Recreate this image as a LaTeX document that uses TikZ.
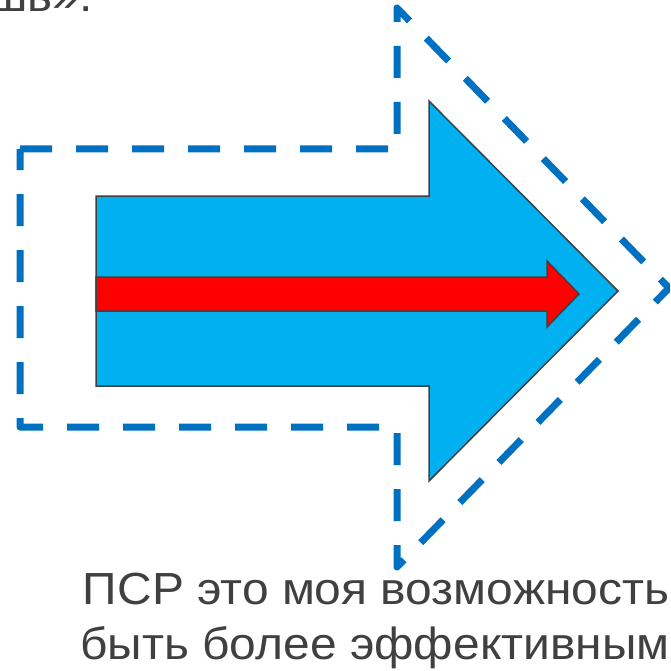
\documentclass[tikz,border=0pt]{standalone}
\usepackage{fontspec}
\setmainfont{Liberation Sans}[FakeStretch=1.065]
\definecolor{outlineblue}{HTML}{0070C0}
\definecolor{arrowblue}{HTML}{00B0F0}
\definecolor{arrowred}{HTML}{FF0000}
\definecolor{edgegray}{HTML}{404040}
\definecolor{textgray}{HTML}{404040}
\tikzset{
  dashoutline/.style={draw=outlineblue, line width=7pt, dash pattern=on 32pt off 24pt, line join=round},
  bigarrow/.style={fill=arrowblue, draw=edgegray, line width=1.5pt, line join=miter},
  smallarrow/.style={fill=arrowred, draw=edgegray, line width=1.5pt, line join=miter},
  caption/.style={text=textgray, font=\fontsize{45}{52}\selectfont, inner sep=0pt, anchor=base}
}
\begin{document}
\begin{tikzpicture}[x=1pt, y=-1pt]
\useasboundingbox (0,0) rectangle (670,671);
\clip (0,0) rectangle (670,671);
% dashed outline arrow
\draw[dashoutline] (20,149) -- (397,149) -- (397,8) -- (669,288) -- (397,567) -- (397,427) -- (20,427) -- cycle;
% blue block arrow
\draw[bigarrow] (96,196) -- (429,196) -- (429,101) -- (618,291) -- (429,481) -- (429,386) -- (96,386) -- cycle;
% red arrow inside
\draw[smallarrow] (96,277) -- (547,277) -- (547,261) -- (579,294) -- (547,327) -- (547,311) -- (96,311) -- cycle;
% text
\node[caption, anchor=base east] (top) at (93,12) {шь».};
\node[caption] (line1) at (376,604) {ПСР это моя возможность};
\node[caption] (line2) at (375,659) {быть более эффективным};
\end{tikzpicture}
\end{document}
